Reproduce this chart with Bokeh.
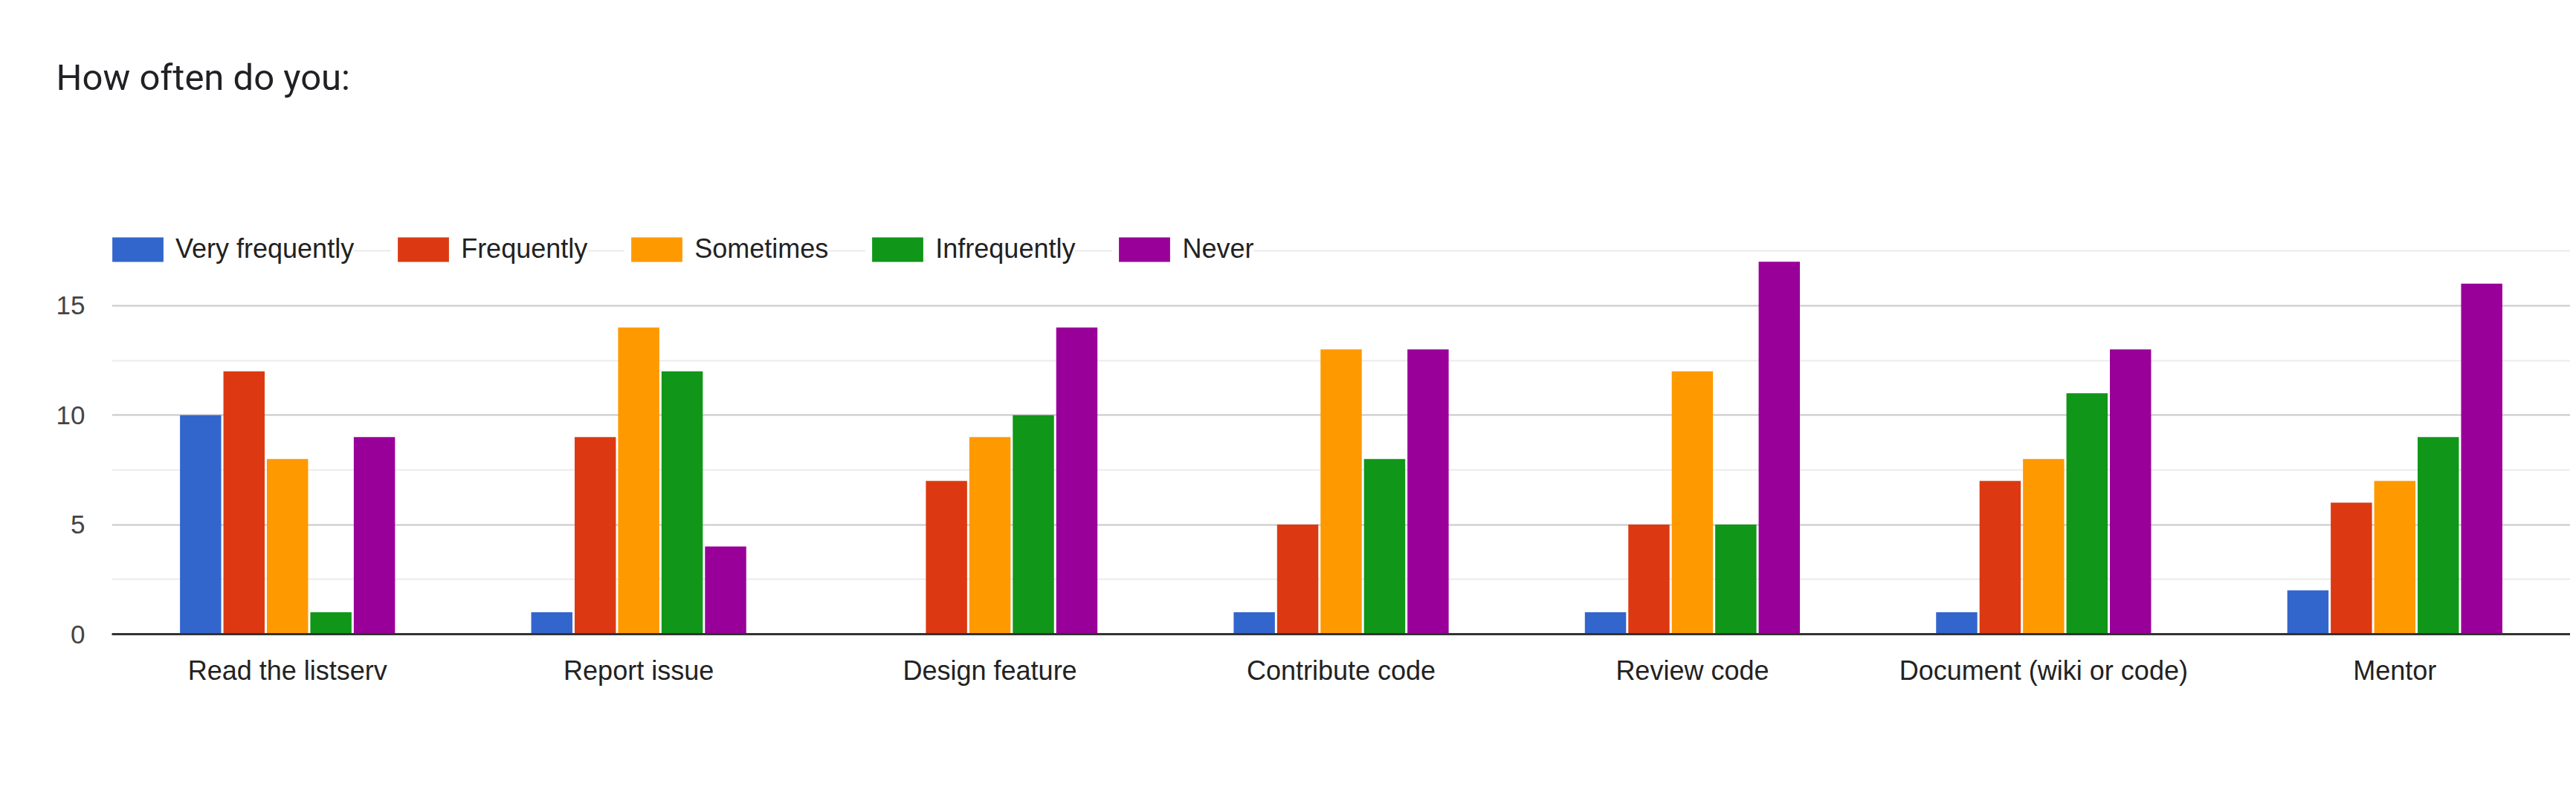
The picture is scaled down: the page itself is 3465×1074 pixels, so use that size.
from bokeh.embed import file_html
from bokeh.resources import INLINE
from bokeh.plotting import figure
from bokeh.models import (ColumnDataSource, Legend, LegendItem, SingleIntervalTicker,
                          Range1d, Title)
from bokeh.transform import dodge

# data
categories = ["Read the listserv", "Report issue", "Design feature", "Contribute code",
              "Review code", "Document (wiki or code)", "Mentor"]
series = ["Very frequently", "Frequently", "Sometimes", "Infrequently", "Never"]
very_frequently = [10, 1, 0, 1, 1, 1, 2]
frequently = [12, 9, 7, 5, 5, 7, 6]
sometimes = [8, 14, 9, 13, 12, 8, 7]
infrequently = [1, 12, 10, 8, 5, 11, 9]
never = [9, 4, 14, 13, 17, 13, 16]
colors = ["#3366cc", "#dc3912", "#ff9900", "#109618", "#990099"]

src = ColumnDataSource(dict(cat=categories, s0=very_frequently, s1=frequently,
                            s2=sometimes, s3=infrequently, s4=never))

# frame top sits a little above the 17.5 line so the legend row fits inside it
p = figure(x_range=categories, y_range=Range1d(0, 18.25),
           width=3457, height=1050, output_backend="svg", toolbar_location=None,
           min_border_left=150, min_border_right=0, min_border_top=313,
           min_border_bottom=197, outline_line_color=None)

# blank spacer between the title and the frame, title above it
p.add_layout(Title(text=" ", text_font_size="10px", standoff=93), "above")
p.title = Title(text="How often do you:", text_font="Roboto", text_font_size="49px",
                text_font_style="normal", text_color="#202124", align="left",
                vertical_align="top", offset=-75, standoff=150)

step = 0.1237
items = []
for i, name in enumerate(series):
    r = p.vbar(x=dodge("cat", (i - 2) * step, range=p.x_range), top="s%d" % i,
               width=step - 0.0063, source=src, fill_color=colors[i], line_color=None)
    items.append(LegendItem(label=name, renderers=[r]))

# legend glyphs are inset by 10%, so the boxes are sized up to come out 69x33
legend = Legend(items=items, orientation="horizontal", location=(-8, 497),
                glyph_width=86, glyph_height=41, label_height=41, label_standoff=8,
                spacing=50, padding=0, margin=0, border_line_color=None,
                background_fill_alpha=0, label_text_font="Liberation Sans",
                label_text_font_size="36px", label_text_color="#222222")
legend.item_background_policy = "every"
legend.item_background_fill_color = "white"
legend.item_background_fill_alpha = 1.0
p.add_layout(legend)

# axes and grid
p.yaxis.ticker = SingleIntervalTicker(interval=5, num_minor_ticks=2)
p.ygrid.grid_line_color = "#cccccc"
p.ygrid.grid_line_width = 2
p.ygrid.minor_grid_line_color = "#ebebeb"
p.ygrid.minor_grid_line_width = 2
p.xgrid.grid_line_color = None

p.yaxis.axis_line_color = None
p.yaxis.major_tick_line_color = None
p.yaxis.minor_tick_line_color = None
p.yaxis.major_label_standoff = 30
p.yaxis.major_label_text_font = "Liberation Sans"
p.yaxis.major_label_text_font_size = "35px"
p.yaxis.major_label_text_color = "#444444"

p.xaxis.axis_line_color = "#333333"
p.xaxis.axis_line_width = 3
p.xaxis.major_tick_line_color = None
p.xaxis.minor_tick_line_color = None
p.xaxis.major_label_standoff = 22
p.xaxis.major_label_text_font = "Liberation Sans"
p.xaxis.major_label_text_font_size = "36px"
p.xaxis.major_label_text_color = "#222222"

open("out.html", "w").write(file_html(p, INLINE))
